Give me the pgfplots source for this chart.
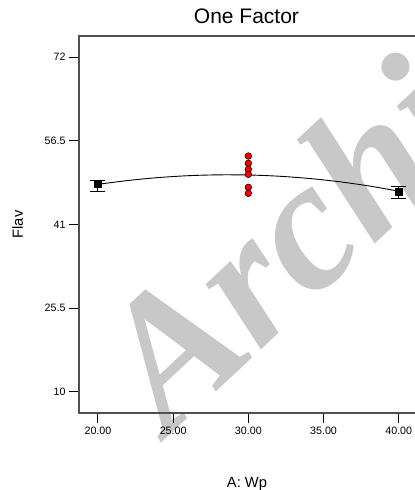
\documentclass[border=0pt]{standalone}
\usepackage{fontspec}
\setmainfont{Liberation Sans}
\newfontfamily\wmfont{Liberation Serif}
\usepackage{pgfplots}
\pgfplotsset{compat=1.18}
\definecolor{wm}{RGB}{200,200,200}
\definecolor{axgray}{RGB}{80,80,80}
\begin{document}
\begin{tikzpicture}
\node[text=wm, rotate=43, anchor=base west, inner sep=0pt, font=\wmfont\bfseries\itshape\fontsize{186}{186}\selectfont] at (89pt,-24pt) {Archive};
\begin{axis}[
  at={(0,0)}, anchor=south west,
  scale only axis, width=338.7pt, height=377pt,
  xmin=18.74, xmax=41.26, ymin=6.06, ymax=75.9,
  xtick={20,25,30,35,40}, xticklabels={20.00,25.00,30.00,35.00,40.00},
  ytick={10,25.5,41,56.5,72}, yticklabels={10,25.5,41,56.5,72},
  tick align=outside, xtick pos=bottom, ytick pos=left,
  major tick length=10pt,
  axis line style={axgray, line width=1.2pt},
  tick style={black, line width=1pt},
  ticklabel style={font=\fontsize{10.7}{12}\selectfont},
  xlabel={A: Wp},
  xlabel style={at={(axis description cs:0.496,-0.169)}, anchor=north, inner sep=0pt, font=\fontsize{14.7}{16}\selectfont},
  ylabel={Flav},
  ylabel style={at={(axis description cs:-0.198,0.5)}, anchor=north, inner sep=0pt, font=\fontsize{14.7}{16}\selectfont},
  title={One Factor},
  title style={at={(axis description cs:0.4945,1.016)}, anchor=south, inner sep=0pt, font=\fontsize{21}{24}\selectfont},
]
\addplot[black, line width=0.9pt, smooth, no marks] coordinates {
(20,48.42)(22,49.13)(24,49.67)(26,50.02)(28,50.18)(30,50.15)(32,49.93)(34,49.52)(36,48.92)(38,48.13)(40,47.15)};
\addplot[only marks, mark=square*, mark size=3.3pt, black,
  error bars/.cd, y dir=both, y explicit,
  error mark options={rotate=90, mark size=7.5pt, line width=1pt, black},
  error bar style={line width=1pt, black}]
  table[x=x, y=y, y error plus=ep, y error minus=em] {
x y ep em
20 48.42 0.67 1.30
40 47.05 0.92 1.17
};
\addplot[only marks, mark=*, mark size=3.3pt, mark options={fill=red, draw=black, line width=0.6pt}]
  coordinates {(30,53.66)(30,52.31)(30,51.2)(30,50.27)(30,47.86)(30,46.75)};
\end{axis}
\pgfresetboundingbox
\useasboundingbox (-79pt,-77pt) rectangle (336pt,413pt);
\end{tikzpicture}
\end{document}
